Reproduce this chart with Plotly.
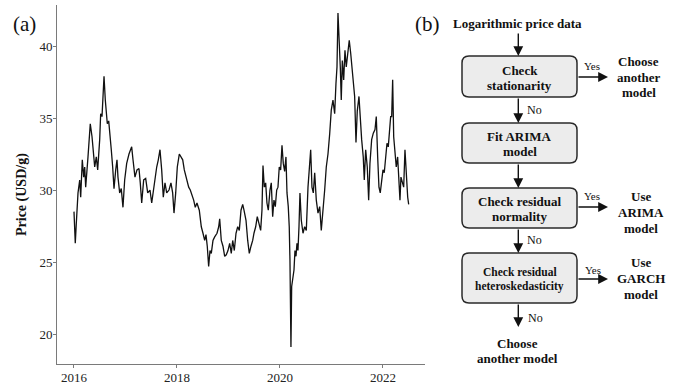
import plotly.graph_objects as go

# ---- (a) Logarithmic price series: time offsets (years after 2016) and price (USD/g)
t_years = [
    0.000, 0.025, 0.045, 0.078, 0.111, 0.130, 0.161, 0.188, 0.208, 0.227,
    0.272, 0.316, 0.350, 0.375, 0.402, 0.433, 0.460, 0.499, 0.518, 0.544,
    0.563, 0.583, 0.608, 0.647, 0.674, 0.699, 0.724, 0.751, 0.777, 0.810,
    0.835, 0.854, 0.887, 0.918, 0.951, 0.984, 1.023, 1.068, 1.120, 1.146,
    1.184, 1.223, 1.262, 1.287, 1.315, 1.353, 1.392, 1.431, 1.476, 1.509,
    1.559, 1.606, 1.637, 1.670, 1.703, 1.734, 1.767, 1.800, 1.845, 1.883,
    1.916, 1.942, 1.975, 2.006, 2.045, 2.078, 2.111, 2.142, 2.188, 2.227,
    2.258, 2.291, 2.324, 2.355, 2.388, 2.433, 2.472, 2.505, 2.538, 2.563,
    2.588, 2.615, 2.641, 2.666, 2.699, 2.732, 2.777, 2.810, 2.829, 2.860,
    2.893, 2.926, 2.957, 2.990, 3.023, 3.054, 3.082, 3.113, 3.146, 3.179,
    3.210, 3.243, 3.276, 3.301, 3.340, 3.373, 3.404, 3.437, 3.470, 3.495,
    3.528, 3.559, 3.586, 3.625, 3.650, 3.670, 3.695, 3.722, 3.747, 3.773,
    3.806, 3.831, 3.858, 3.883, 3.909, 3.936, 3.961, 3.986, 4.013, 4.039,
    4.064, 4.091, 4.116, 4.136, 4.161, 4.180, 4.194, 4.208, 4.213, 4.227,
    4.246, 4.272, 4.291, 4.311, 4.330, 4.349, 4.369, 4.388, 4.414, 4.447,
    4.479, 4.511, 4.544, 4.577, 4.596, 4.621, 4.647, 4.674, 4.705, 4.738,
    4.771, 4.802, 4.835, 4.868, 4.899, 4.932, 4.965, 4.996, 5.029, 5.062,
    5.087, 5.107, 5.126, 5.151, 5.171, 5.190, 5.210, 5.237, 5.262, 5.287,
    5.320, 5.345, 5.373, 5.398, 5.423, 5.450, 5.476, 5.501, 5.534, 5.553,
    5.586, 5.617, 5.637, 5.664, 5.695, 5.722, 5.747, 5.780, 5.812, 5.845,
    5.870, 5.897, 5.922, 5.947, 5.975, 6.000, 6.025, 6.052, 6.078, 6.103,
    6.130, 6.149, 6.169, 6.188, 6.208, 6.233, 6.258, 6.285, 6.311, 6.330,
    6.349, 6.375, 6.402, 6.427, 6.452, 6.480, 6.499,
]
price = [
    28.5, 26.3, 27.7, 29.8, 30.7, 29.5, 32.1, 30.9, 31.6, 30.2,
    32.3, 34.6, 33.7, 32.5, 31.6, 32.3, 31.4, 33.5, 35.3, 35.1,
    37.2, 37.9, 36.25, 34.6, 34.8, 33.5, 32.8, 31.6, 30.1, 31.4,
    32.1, 30.9, 29.8, 30.1, 28.8, 30.7, 31.85, 32.5, 33.0, 32.1,
    30.9, 31.4, 31.5, 30.5, 29.1, 30.7, 30.8, 29.8, 30.0, 29.1,
    30.5, 31.6, 32.1, 32.8, 31.4, 29.5, 30.5, 29.8, 30.0, 30.5,
    29.8, 28.4, 29.8, 31.6, 32.5, 32.3, 32.1, 31.4, 30.8, 30.2,
    30.0, 29.65, 29.3, 28.8, 29.1, 28.6, 27.45, 27.0, 26.5, 26.9,
    26.1, 24.7, 25.8, 25.6, 26.5, 26.75, 27.0, 27.45, 28.0, 26.5,
    26.1, 25.4, 25.5, 25.8, 26.3, 25.6, 26.5, 25.8, 27.0, 27.45,
    27.2, 28.6, 29.0, 28.6, 27.9, 26.5, 25.6, 26.1, 26.5, 27.0,
    27.45, 28.15, 27.7, 27.2, 28.6, 31.7, 30.2, 30.5, 29.1, 28.6,
    30.0, 30.5, 28.15, 29.3, 28.85, 30.0, 30.2, 31.6, 31.4, 33.1,
    31.85, 31.3, 32.3, 29.8, 28.85, 27.45, 25.1, 21.7, 19.1, 23.3,
    23.75, 24.45, 25.8, 25.4, 26.3, 25.8, 27.45, 29.8, 27.9, 27.0,
    27.45, 27.2, 30.2, 31.6, 32.8, 30.2, 29.8, 31.2, 29.3, 28.4,
    28.85, 27.2, 28.4, 30.0, 31.6, 32.5, 33.9, 35.55, 36.25, 35.3,
    37.4, 38.55, 42.3, 40.4, 38.55, 36.25, 39.0, 37.65, 39.7, 38.55,
    39.95, 40.4, 39.5, 38.3, 37.4, 36.5, 33.3, 35.5, 36.5, 35.1,
    33.5, 32.3, 30.7, 32.8, 31.6, 29.3, 31.85, 33.5, 33.95, 34.2,
    35.1, 32.3, 30.2, 29.8, 30.5, 31.4, 31.2, 32.1, 33.25, 33.0,
    33.95, 35.1, 35.1, 37.65, 33.7, 32.8, 31.6, 32.3, 30.5, 29.3,
    30.9, 30.5, 30.2, 32.8, 30.9, 29.5, 29.0,
]
start_year = 2016
year_ticks = [2016, 2018, 2020, 2022]
price_ticks = [20, 25, 30, 35, 40]

SERIF = "Liberation Serif, Times New Roman, serif"
INK = "#111111"
W, H = 677, 390

fig = go.Figure()
fig.add_trace(go.Scatter(
    x=[start_year + t for t in t_years], y=price, mode="lines",
    line=dict(color=INK, width=1.3), showlegend=False, hoverinfo="skip",
    xaxis="x", yaxis="y",
))
# empty trace so the overlay (flowchart) axes exist
fig.add_trace(go.Scatter(x=[], y=[], xaxis="x2", yaxis="y2", showlegend=False))

axis_gray = "#7a7a7a"
fig.update_layout(
    width=W, height=H, margin=dict(l=0, r=0, t=0, b=0),
    paper_bgcolor="white", plot_bgcolor="rgba(0,0,0,0)",
    font=dict(family=SERIF, color=INK),
    xaxis=dict(domain=[57 / W, 425 / W], range=[2015.67, 2022.816],
               tickvals=year_ticks, ticktext=[str(v) for v in year_ticks],
               showgrid=False, zeroline=False, showline=True,
               linecolor=axis_gray, linewidth=1, ticks="outside",
               ticklen=3, tickcolor=axis_gray, ticklabelstandoff=-2,
               tickfont=dict(family=SERIF, size=13, color="#222")),
    yaxis=dict(domain=[1 - 364 / H, 1 - 5 / H], range=[17.92, 42.85],
               tickvals=price_ticks, showgrid=False, zeroline=False,
               showline=True, linecolor=axis_gray, linewidth=1,
               ticks="outside", ticklen=3, tickcolor=axis_gray,
               ticklabelstandoff=-2,
               tickfont=dict(family=SERIF, size=13, color="#222")),
    xaxis2=dict(domain=[0, 1], range=[0, W], visible=False, anchor="y2",
                fixedrange=True),
    yaxis2=dict(domain=[0, 1], range=[H, 0], visible=False, anchor="x2",
                fixedrange=True),
)

annotations = []
shapes = []


def label(x, y, text, size=13, bold=True, xanchor="center"):
    annotations.append(dict(
        x=x, y=y, xref="x2", yref="y2", text=f"<b>{text}</b>" if bold else text,
        showarrow=False, xanchor=xanchor, yanchor="middle",
        font=dict(family=SERIF, size=size, color=INK),
    ))


def arrow(x0, y0, x1, y1):
    annotations.append(dict(
        x=x1, y=y1, ax=x0, ay=y0, xref="x2", yref="y2", axref="x2", ayref="y2",
        text="", showarrow=True, arrowhead=2, arrowsize=1.4, arrowwidth=1.4,
        arrowcolor=INK, standoff=0, startstandoff=0,
    ))


def rounded_box(x0, x1, y0, y1, r=7):
    path = (f"M {x0 + r},{y0} L {x1 - r},{y0} Q {x1},{y0} {x1},{y0 + r} "
            f"L {x1},{y1 - r} Q {x1},{y1} {x1 - r},{y1} "
            f"L {x0 + r},{y1} Q {x0},{y1} {x0},{y1 - r} "
            f"L {x0},{y0 + r} Q {x0},{y0} {x0 + r},{y0} Z")
    shapes.append(dict(type="path", path=path, xref="x2", yref="y2",
                       fillcolor="#ececec", line=dict(color="#2a2a2a", width=1.5),
                       layer="below"))


# panel letters and axis title
annotations.append(dict(x=24, y=24, xref="x2", yref="y2", text="(a)",
                        showarrow=False, font=dict(family=SERIF, size=21, color=INK)))
annotations.append(dict(x=427, y=24, xref="x2", yref="y2", text="(b)",
                        showarrow=False, font=dict(family=SERIF, size=21, color=INK)))
annotations.append(dict(x=22, y=195, xref="x2", yref="y2", text="<b>Price (USD/g)</b>",
                        textangle=-90, showarrow=False,
                        font=dict(family=SERIF, size=14, color=INK)))

# ---- (b) flowchart
BX0, BX1, CX = 462, 577, 519.5
rounded_box(BX0, BX1, 56, 97)
rounded_box(BX0, BX1, 123, 163)
rounded_box(BX0, BX1, 188, 228)
rounded_box(BX0, BX1, 253, 303)

label(517.5, 23, "Logarithmic price data")
label(CX, 70, "Check")
label(CX, 85, "stationarity")
label(CX, 136, "Fit ARIMA")
label(CX, 151.5, "model")
label(CX, 201.5, "Check residual")
label(CX, 216.5, "normality")
label(CX, 271.5, "Check residual", size=11.5)
label(CX, 286, "heteroskedasticity", size=11.5)

label(638.5, 61.5, "Choose")
label(638.5, 77, "another")
label(638.5, 92, "model")
label(641, 196.5, "Use")
label(641, 212.5, "ARIMA")
label(641, 228, "model")
label(641, 262.5, "Use")
label(641, 278, "GARCH")
label(641, 294, "model")
label(517, 343.5, "Choose")
label(517, 358.5, "another model")

label(592, 66, "Yes", size=11, bold=False)
label(592, 196, "Yes", size=11, bold=False)
label(593, 269.5, "Yes", size=11, bold=False)
label(525, 110, "No", size=12, bold=False, xanchor="left")
label(525, 240, "No", size=12, bold=False, xanchor="left")
label(526, 318, "No", size=12, bold=False, xanchor="left")

AX = 518.3
arrow(AX, 32, AX, 56)
arrow(AX, 97, AX, 123)
arrow(AX, 163, AX, 188)
arrow(AX, 228, AX, 253)
arrow(AX, 303, AX, 327)
arrow(BX1, 77, 608, 77)
arrow(BX1, 207, 608, 207)
arrow(BX1, 279, 608, 279)

fig.update_layout(annotations=annotations, shapes=shapes)
fig.write_html("out.html")
